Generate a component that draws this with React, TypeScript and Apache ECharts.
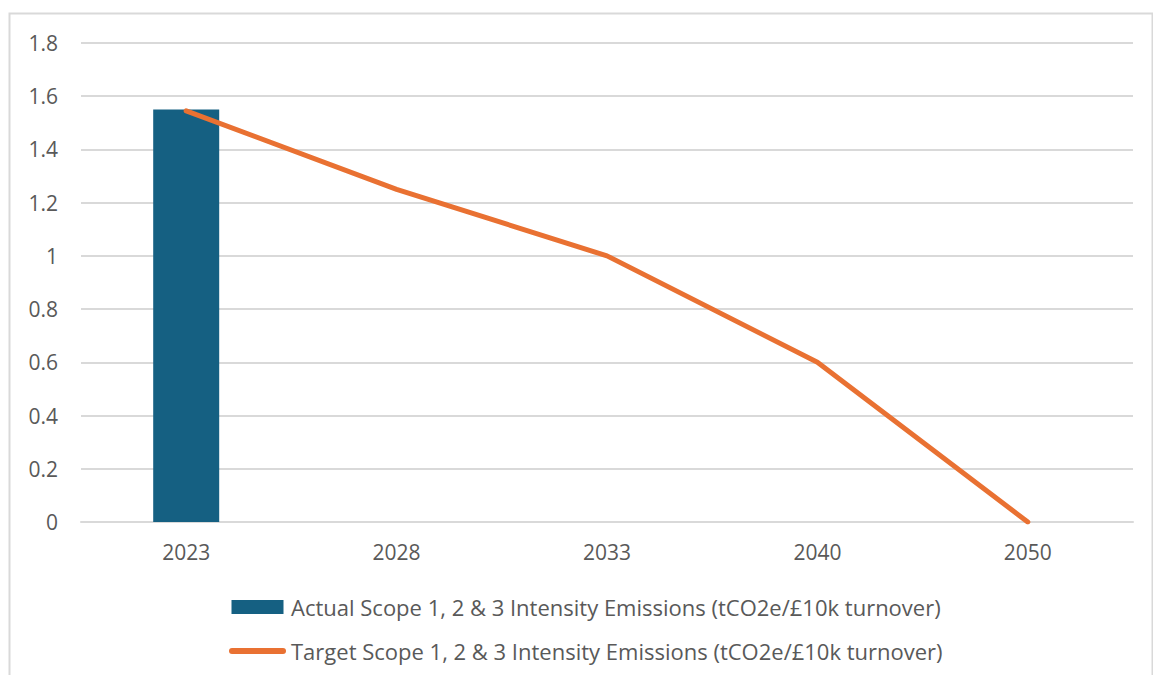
import React, { useEffect, useRef } from "react";
import * as echarts from "echarts";

const categories = ["2023", "2028", "2033", "2040", "2050"];
const actualValues: (number | null)[] = [1.55, null, null, null, null];
const targetValues = [1.545, 1.25, 1.0, 0.6, 0.0];
const actualName = "Actual Scope 1, 2 & 3 Intensity Emissions (tCO2e/£10k turnover)";
const targetName = "Target Scope 1, 2 & 3 Intensity Emissions (tCO2e/£10k turnover)";

const FONT = "Open Sans";
const TEXT = "#595959";
const BAR = "#156082";
const LINE = "#E97132";

const rectIcon = "path://M0,0 L52,0 L52,14 L0,14 Z";
const lineIcon = "path://M3,0 L54,0 A3,3 0 0 1 54,6 L3,6 A3,3 0 0 1 3,0 Z";

export default function App() {
  const ref = useRef<HTMLDivElement>(null);
  useEffect(() => {
    if (!ref.current) return;
    const chart = echarts.init(ref.current, undefined, { renderer: "svg" });
    chart.setOption({
      animation: false,
      backgroundColor: "#ffffff",
      textStyle: { fontFamily: FONT },
      graphic: [
        {
          type: "rect",
          shape: { x: 9.5, y: 13.5, width: 1143, height: 700 },
          style: { fill: "none", stroke: "#d9d9d9", lineWidth: 2 },
          silent: true,
        },
      ],
      grid: { left: 81, right: 20, top: 43, bottom: 153 },
      xAxis: {
        type: "category",
        data: categories,
        axisLine: { show: true, lineStyle: { color: "#d9d9d9", width: 2 } },
        axisTick: { show: false },
        axisLabel: { color: TEXT, fontSize: 21, fontFamily: FONT, margin: 19 },
      },
      yAxis: {
        type: "value",
        min: 0,
        max: 1.8,
        interval: 0.2,
        axisLine: { show: false },
        axisTick: { show: false },
        splitLine: { lineStyle: { color: "#d9d9d9", width: 2 } },
        axisLabel: { color: TEXT, fontSize: 21, fontFamily: FONT, margin: 23 },
      },
      legend: {
        orient: "vertical",
        left: 224,
        top: 591,
        itemWidth: 57,
        itemHeight: 14,
        itemGap: 22,
        symbolKeepAspect: true,
        textStyle: { color: TEXT, fontSize: 22, fontFamily: FONT },
        data: [
          { name: actualName, icon: rectIcon, itemStyle: { color: BAR } },
          { name: targetName, icon: lineIcon, itemStyle: { color: LINE }, lineStyle: { width: 0 } },
        ],
      },
      series: [
        {
          name: actualName,
          type: "bar",
          data: actualValues,
          barWidth: 66,
          itemStyle: { color: BAR },
        },
        {
          name: targetName,
          type: "line",
          data: targetValues,
          symbol: "none",
          lineStyle: { color: LINE, width: 5, cap: "round", join: "round" },
          itemStyle: { color: LINE },
        },
      ],
    });
    return () => chart.dispose();
  }, []);
  return (
    <div
      ref={ref}
      style={{ position: "fixed", left: 0, top: 0, width: 1153, height: 675 }}
    />
  );
}
